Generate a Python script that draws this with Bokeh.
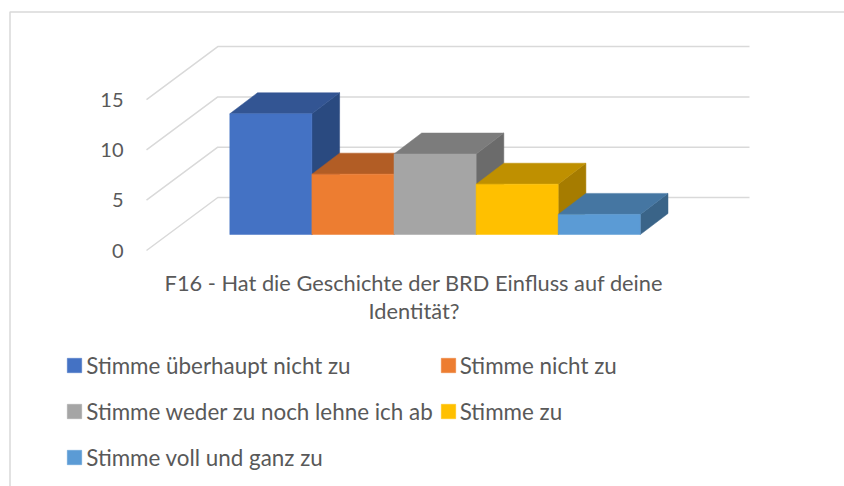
from bokeh.plotting import figure
from bokeh.models import Range1d, Legend, LegendItem, FixedTicker
from bokeh.core.properties import value
from bokeh.embed import file_html
from bokeh.resources import INLINE

categories = ["Stimme überhaupt nicht zu", "Stimme nicht zu",
              "Stimme weder zu noch lehne ich ab", "Stimme zu", "Stimme voll und ganz zu"]
counts = [12, 6, 8, 5, 2]
ticks = [0, 5, 10, 15]
front = ["#4472C4", "#ED7D31", "#A5A5A5", "#FFC000", "#5B9BD5"]
tops = ["#335593", "#B25D25", "#7C7C7C", "#BF9000", "#4576A2"]
sides = ["#2A4A80", "#9A5020", "#6B6B6B", "#A67C00", "#3A6488"]
title_lines = ["F16 - Hat die Geschichte der BRD Einfluss auf deine", "Identität?"]

FONT = "Lato"
FS = "21.8px"
LEGEND_FS = "22.4px"
TICK_FS = "20px"
TEXT = "#595959"
W, H = 844, 486
PX_X = 82.1   # pixels per bar
PX_Y = 10.06  # pixels per count

# page pixel -> data helpers (layout only)
def X(px): return (px - 229.3) / PX_X
def Y(py): return (250 - py) / PX_Y

p = figure(width=W, height=H, output_backend="svg", toolbar_location=None,
           x_range=Range1d(X(0), X(W)), y_range=Range1d(Y(H), Y(0)),
           x_axis_location=None, min_border=0, min_border_left=0, min_border_right=0,
           min_border_top=0, min_border_bottom=0, outline_line_color=None)
p.xgrid.visible = False
p.ygrid.visible = False

# chart frame
p.line([X(9.5), X(9.5), X(W)], [Y(H), Y(11.5), Y(11.5)], line_color="#D9D9D9", line_width=1.5)

# wall and floor grid
wall_dx, wall_dy = X(217.3) - X(146), 53 / PX_Y
x_end = X(749)
for t in ticks:
    p.line([X(146), X(146) + wall_dx, x_end], [t, t + wall_dy, t + wall_dy],
           line_color="#D9D9D9", line_width=1.5)

# bars
base = 16 / PX_Y
dx, dy = 27.7 / PX_X, 21 / PX_Y
renderers = []
for i, v in enumerate(counts):
    y1 = base + v
    p.patch([i + 1, i + 1 + dx, i + 1 + dx, i + 1], [base, base + dy, y1 + dy, y1],
            fill_color=sides[i], line_color=sides[i], line_width=0.5)
    p.patch([i, i + 1, i + 1 + dx, i + dx], [y1, y1, y1 + dy, y1 + dy],
            fill_color=tops[i], line_color=tops[i], line_width=0.5)
    renderers.append(p.quad(left=i, right=i + 1, bottom=base, top=y1,
                            fill_color=front[i], line_color=front[i], line_width=0.5))

# value axis, sitting at the front edge of the wall
ax = p.yaxis[0]
ax.fixed_location = X(146)
ax.ticker = FixedTicker(ticks=ticks)
ax.axis_line_color = None
ax.major_tick_line_color = None
ax.minor_tick_line_color = None
ax.major_label_standoff = 17
ax.major_label_text_font = FONT
ax.major_label_text_font_size = TICK_FS
ax.major_label_text_color = TEXT

# category title
for line, py in zip(title_lines, [282, 310]):
    p.text([X(413.5)], [Y(py)], text=[line], text_font=value(FONT), text_font_size=FS,
           text_color=TEXT, text_align="center", text_baseline="middle")

# the legend fills column by column; the reference reads row by row
order = [0, 2, 4, 1, 3]
items = [LegendItem(label=categories[i], renderers=[renderers[i]]) for i in order]
legend = Legend(items=items, ncols=2, nrows=3, location=(65.25, 9), padding=0, margin=0,
                border_line_color=None, background_fill_alpha=0,
                glyph_width=18, glyph_height=18, label_standoff=3, spacing=6, label_height=40,
                label_text_font=FONT, label_text_font_size=LEGEND_FS, label_text_color=TEXT)
p.add_layout(legend, "center")

open("out.html", "w").write(file_html(p, INLINE))
